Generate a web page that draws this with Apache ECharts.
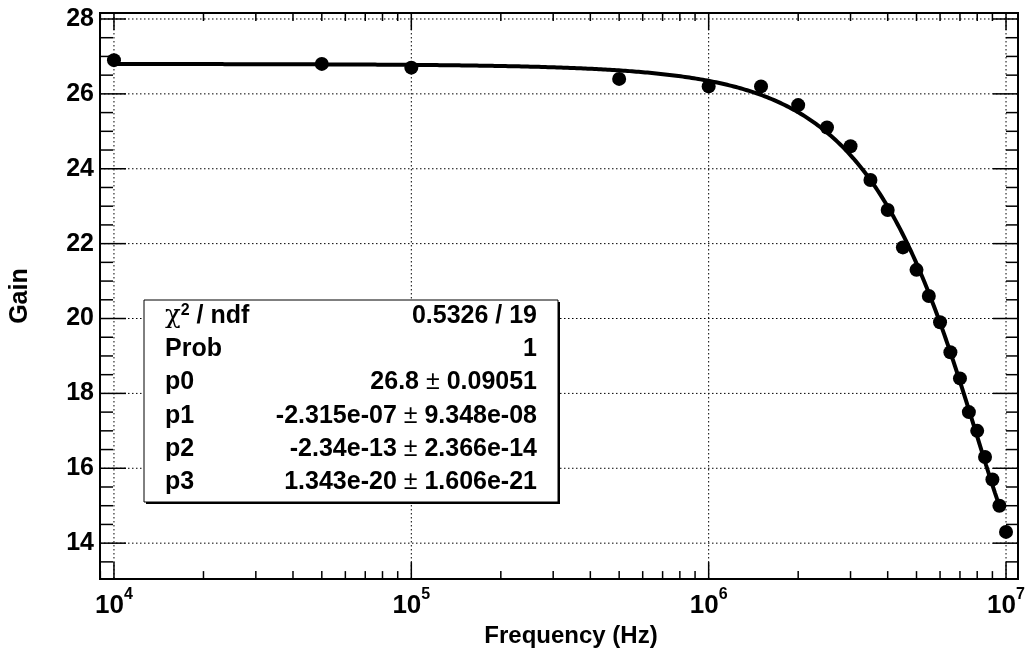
<!DOCTYPE html>
<html>
<head>
<meta charset="utf-8">
<script src="https://cdn.jsdelivr.net/npm/echarts@6/dist/echarts.min.js"></script>
<style>
  html, body { margin: 0; padding: 0; background: #fff; }
  #chart { width: 1030px; height: 653px; }
</style>
</head>
<body>
<div id="chart"></div>
<script>
// Measured amplifier gain versus frequency
const frequency = [1e4, 5e4, 1e5, 5e5, 1e6, 1.5e6, 2e6, 2.5e6, 3e6, 3.5e6, 4e6, 4.5e6,
                   5e6, 5.5e6, 6e6, 6.5e6, 7e6, 7.5e6, 8e6, 8.5e6, 9e6, 9.5e6, 1e7];
const gain = [26.9, 26.8, 26.7, 26.4, 26.2, 26.2, 25.7, 25.1, 24.6, 23.7, 22.9, 21.9,
              21.3, 20.6, 19.9, 19.1, 18.4, 17.5, 17.0, 16.3, 15.7, 15.0, 14.3];

// Cubic polynomial fit  p0 + p1*f + p2*f^2 + p3*f^3  and its range
const fitParams = [26.8, -2.315e-07, -2.34e-13, 1.343e-20];
const fitRange = [1e4, 9.5e6];

// Fit statistics box
const statsNames = ['χ2 / ndf', 'Prob', 'p0', 'p1', 'p2', 'p3'];
const statsValues = [['0.5326 / 19'], ['1'], ['26.8', '0.09051'], ['-2.315e-07', '9.348e-08'],
                     ['-2.34e-13', '2.366e-14'], ['1.343e-20', '1.606e-21']];

// Axes
const xRange = [8975, 1.0972e7];
const yRange = [13.04, 28.16];
const xMajorTicks = [1e4, 1e5, 1e6, 1e7];
const xTickExponents = ['4', '5', '6', '7'];
const yMajorTicks = [14, 16, 18, 20, 22, 24, 26, 28];
const yMinorStep = 0.5;

const FONT = '"Liberation Sans", Arial, Helvetica, sans-serif';

function fitValue(f) {
  return fitParams[0] + fitParams[1] * f + fitParams[2] * f * f + fitParams[3] * f * f * f;
}

// Evaluate the fitted polynomial along the fit range (log-spaced)
const fitCurve = [];
(function () {
  const n = 400;
  const a = Math.log10(fitRange[0]), b = Math.log10(fitRange[1]);
  for (let i = 0; i <= n; i++) {
    const f = Math.pow(10, a + (b - a) * i / n);
    fitCurve.push([f, fitValue(f)]);
  }
})();

// Minor tick positions: 2..9 within each decade, and every half unit on y
const xMinorTicks = [];
for (let d = 1e3; d <= 1e7; d *= 10) {
  for (let m = 2; m <= 9; m++) {
    const v = d * m;
    if (v > xRange[0] && v < xRange[1]) xMinorTicks.push(v);
  }
}
const yMinorTicks = [];
for (let v = Math.ceil(yRange[0] / yMinorStep) * yMinorStep; v <= yRange[1]; v += yMinorStep) {
  if (yMajorTicks.indexOf(v) < 0) yMinorTicks.push(v);
}

// Grid lines and inward ticks on all four sides of the frame
function renderFrameMarks(params, api) {
  const bl = api.coord([xRange[0], yRange[0]]);
  const tr = api.coord([xRange[1], yRange[1]]);
  const x0 = bl[0], y0 = bl[1], x1 = tr[0], y1 = tr[1];
  const children = [];
  const dotted = { stroke: '#000', lineWidth: 1, lineDash: [1.5, 2.5] };
  const solid = { stroke: '#000', lineWidth: 1.5 };
  const line = (ax, ay, bx, by, style) => children.push({
    type: 'line', shape: { x1: ax, y1: ay, x2: bx, y2: by }, style: style, silent: true
  });

  xMajorTicks.forEach(v => {
    const x = api.coord([v, yRange[0]])[0];
    line(x, y1, x, y0, dotted);
    line(x, y0, x, y0 - 17, solid);
    line(x, y1, x, y1 + 17, solid);
  });
  xMinorTicks.forEach(v => {
    const x = api.coord([v, yRange[0]])[0];
    line(x, y0, x, y0 - 8, solid);
    line(x, y1, x, y1 + 8, solid);
  });
  yMajorTicks.forEach(v => {
    const y = api.coord([xRange[0], v])[1];
    line(x0, y, x1, y, dotted);
    line(x0, y, x0 + 26, y, solid);
    line(x1, y, x1 - 25, y, solid);
  });
  yMinorTicks.forEach(v => {
    const y = api.coord([xRange[0], v])[1];
    line(x0, y, x0 + 13, y, solid);
    line(x1, y, x1 - 12, y, solid);
  });
  return { type: 'group', children: children };
}

// Statistics box contents
const boxX = 144, boxY = 300, boxW = 414, boxH = 202;
const rowBaseline0 = 325, rowStep = 33.3;
const statsGraphics = [
  { type: 'rect', shape: { x: boxX + 2, y: boxY + 2, width: boxW, height: boxH },
    style: { fill: '#000' }, z: 100 },
  { type: 'rect', shape: { x: boxX, y: boxY, width: boxW, height: boxH },
    style: { fill: '#fff', stroke: '#000', lineWidth: 1 }, z: 101 }
];
const richStats = {
  t: { fontSize: 25, fontWeight: 'bold', fontFamily: FONT, fill: '#000' },
  chi: { fontSize: 26, fontWeight: 'normal', fontFamily: '"DejaVu Serif", serif', fill: '#000' },
  sup: { fontSize: 16, fontWeight: 'bold', fontFamily: FONT, fill: '#000', verticalAlign: 'top', lineHeight: 12 },
  pm: { fontSize: 25, fontWeight: 'normal', fontFamily: FONT, fill: '#000' }
};
statsNames.forEach((name, i) => {
  const y = rowBaseline0 + rowStep * i - 9;
  let nameText;
  if (name.indexOf('χ2') === 0) {
    nameText = '{chi|χ}{sup|2}{t|' + name.slice(2) + '}';
  } else {
    nameText = '{t|' + name + '}';
  }
  const vals = statsValues[i];
  const valueText = vals.length === 2
    ? '{t|' + vals[0] + '}{pm| ± }{t|' + vals[1] + '}'
    : '{t|' + vals[0] + '}';
  statsGraphics.push({
    type: 'text', x: 165, y: y, z: 102,
    style: { text: nameText, rich: richStats, align: 'left', verticalAlign: 'middle',
             fontSize: 25, fontWeight: 'bold', fontFamily: FONT, fill: '#000' }
  });
  statsGraphics.push({
    type: 'text', x: 537, y: y, z: 102,
    style: { text: valueText, rich: richStats, align: 'right', verticalAlign: 'middle',
             fontSize: 25, fontWeight: 'bold', fontFamily: FONT, fill: '#000' }
  });
});

const chart = echarts.init(document.getElementById('chart'), null, { renderer: 'canvas' });

chart.setOption({
  animation: false,
  backgroundColor: '#fff',
  grid: {
    left: 98, right: 12, top: 13, bottom: 66,
    show: true, borderColor: '#000', borderWidth: 2, backgroundColor: 'transparent'
  },
  xAxis: {
    type: 'log', logBase: 10, min: xRange[0], max: xRange[1],
    name: 'Frequency (Hz)', nameLocation: 'middle', nameGap: 41,
    nameTextStyle: { fontSize: 24, fontWeight: 'bold', fontFamily: FONT, color: '#000', padding: [0, 0, 0, 24] },
    axisLine: { show: false }, axisTick: { show: false }, splitLine: { show: false },
    axisLabel: {
      customValues: xMajorTicks,
      margin: 7,
      formatter: function (v) {
        const i = xMajorTicks.findIndex(t => Math.abs(Math.log10(t) - Math.log10(v)) < 1e-6);
        return i < 0 ? '' : '{b|10}{s|' + xTickExponents[i] + '}';
      },
      rich: {
        b: { fontSize: 26, fontWeight: 'bold', fontFamily: FONT, color: '#000', lineHeight: 33, verticalAlign: 'bottom' },
        s: { fontSize: 16, fontWeight: 'bold', fontFamily: FONT, color: '#000', lineHeight: 15, verticalAlign: 'top' }
      }
    }
  },
  yAxis: {
    type: 'value', min: yRange[0], max: yRange[1],
    name: 'Gain', nameLocation: 'middle', nameGap: 67, nameRotate: 90,
    nameTextStyle: { fontSize: 25, fontWeight: 'bold', fontFamily: FONT, color: '#000' },
    axisLine: { show: false }, axisTick: { show: false }, splitLine: { show: false },
    axisLabel: {
      customValues: yMajorTicks, margin: 6,
      fontSize: 25, fontWeight: 'bold', fontFamily: FONT, color: '#000'
    }
  },
  graphic: statsGraphics,
  series: [
    {
      type: 'custom', name: 'frame', renderItem: renderFrameMarks,
      data: [[xRange[0], yRange[0]]], silent: true, z: 1, clip: false
    },
    {
      type: 'line', name: 'fit', data: fitCurve, showSymbol: false, smooth: false,
      lineStyle: { color: '#000', width: 4 }, z: 3, silent: true
    },
    {
      type: 'scatter', name: 'gain', data: frequency.map((f, i) => [f, gain[i]]),
      symbol: 'circle', symbolSize: 14, itemStyle: { color: '#000', opacity: 1 }, z: 4
    }
  ]
});
</script>
</body>
</html>
